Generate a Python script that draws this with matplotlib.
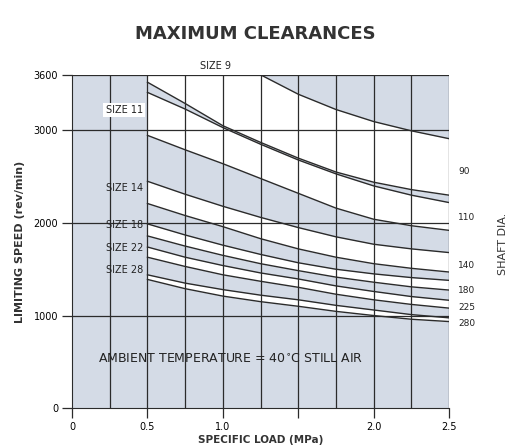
import matplotlib
matplotlib.use('Agg')
import matplotlib.pyplot as plt
import numpy as np

# specific load (MPa) where curves were read
load = [0.5, 0.75, 1.0, 1.25, 1.5, 1.75, 2.0, 2.25, 2.5]

# limiting speed (rev/min), upper and lower edge of each size band
size9_top = [4500, 4150, 3850, 3600, 3390, 3225, 3095, 2995, 2910]
size9_low = [3520, 3290, 3050, 2870, 2700, 2550, 2440, 2360, 2300]
size11_top = [3410, 3230, 3030, 2850, 2680, 2530, 2400, 2300, 2220]
size11_low = [2946, 2790, 2640, 2480, 2320, 2160, 2040, 1970, 1920]
size14_top = [2450, 2310, 2180, 2060, 1950, 1850, 1770, 1720, 1680]
size14_low = [2210, 2080, 1960, 1830, 1720, 1630, 1560, 1510, 1470]
size18_top = [1990, 1870, 1760, 1660, 1570, 1500, 1450, 1410, 1380]
size18_low = [1860, 1750, 1650, 1560, 1485, 1415, 1360, 1310, 1275]
size22_top = [1740, 1630, 1540, 1460, 1395, 1320, 1260, 1205, 1165]
size22_low = [1630, 1530, 1440, 1370, 1305, 1230, 1170, 1120, 1080]
size28_top = [1440, 1350, 1280, 1220, 1170, 1110, 1060, 1010, 975]
size28_low = [1390, 1290, 1210, 1150, 1100, 1045, 1000, 960, 935]

size_labels = ['SIZE 11', 'SIZE 14', 'SIZE 18', 'SIZE 22', 'SIZE 28']
size_label_y = [3220, 2375, 1980, 1730, 1487]
shaft_dia = ['90', '110', '140', '180', '225', '280']
shaft_dia_y = [2560, 2055, 1545, 1275, 1085, 910]

gray = '#d4dbe6'
line_c = '#2b2b2b'

fig = plt.figure(figsize=(5.11, 4.48), dpi=100)
ax = fig.add_axes([0.141, 0.089, 0.738, 0.744])
ax.set_xlim(0, 2.5)
ax.set_ylim(0, 3600)
ax.set_facecolor(gray)

x = np.array(load)
bands = [(np.minimum(size9_top, 3600), size9_low), (size11_top, size11_low),
         (size14_top, size14_low), (size18_top, size18_low),
         (size22_top, size22_low), (size28_top, size28_low)]
for top, low in bands:
    ax.fill_between(x, top, low, color='white', lw=0, zorder=1)

for curve in [size9_top, size9_low, size11_top, size11_low, size14_top, size14_low,
              size18_top, size18_low, size22_top, size22_low, size28_top, size28_low]:
    ax.plot(x, curve, color=line_c, lw=1.0, zorder=3)

# grid
for gx in np.arange(0.25, 2.51, 0.25):
    ax.axvline(gx, color=line_c, lw=0.9, zorder=2)
for gy in [1000, 2000, 3000, 3600]:
    ax.axhline(gy, color=line_c, lw=0.9, zorder=2)

for s in ['top', 'right']:
    ax.spines[s].set_visible(False)
ax.spines['left'].set_color(line_c)
ax.spines['bottom'].set_color(line_c)

ax.set_xticks([0, 0.5, 1.0, 1.5, 2.0, 2.5])
ax.set_xticklabels(['0', '0.5', '1.0', '', '2.0', '2.5'])
ax.set_yticks([0, 1000, 2000, 3000, 3600])
ax.set_yticklabels(['0', '1000', '2000', '3000', '3600'])
ax.tick_params(direction='out', length=7, width=0.9, labelsize=7, color=line_c, pad=3)

ax.set_xlabel('SPECIFIC LOAD (MPa)', fontsize=7.5, fontweight='bold', color='#333333', labelpad=2)
ax.set_ylabel('LIMITING SPEED (rev/min)', fontsize=8, fontweight='bold', color='#333333', labelpad=6)

for lab, yy in zip(size_labels, size_label_y):
    bb = dict(boxstyle='square,pad=0.25', fc='white', ec='none') if lab == 'SIZE 11' else None
    ax.text(0.47, yy, lab, ha='right', va='center', fontsize=7, color='#222222', bbox=bb, zorder=5)
ax.text(0.95, 3640, 'SIZE 9', ha='center', va='bottom', fontsize=7, color='#222222')

for lab, yy in zip(shaft_dia, shaft_dia_y):
    ax.text(2.56, yy, lab, ha='left', va='center', fontsize=6.5, color='#222222', clip_on=False)
fig.text(0.984, 0.455, 'SHAFT DIA.', rotation=90, ha='center', va='center', fontsize=8, color='#333333')

ax.text(1.05, 530, 'AMBIENT TEMPERATURE = 40$^{\\circ}$C STILL AIR', ha='center', va='center',
        fontsize=9, color='#222222', zorder=5)

fig.text(0.5, 0.925, 'MAXIMUM CLEARANCES', ha='center', va='center', fontsize=13,
         fontweight='bold', color='#333333')

fig.savefig('out.png', dpi=100, facecolor='white')
